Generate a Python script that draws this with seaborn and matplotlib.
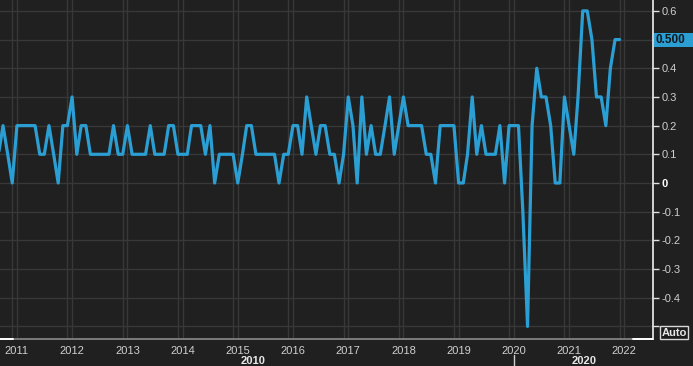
import numpy as np
import pandas as pd
import matplotlib
matplotlib.use("Agg")
import matplotlib.pyplot as plt
from matplotlib.lines import Line2D
import seaborn as sns

# ---------------- data (monthly, first of month) ----------------
first_month = "2010-09-01"
v2010 = [0.1, 0.2, 0.1, 0.0]  # Sep-Dec
v2011 = [0.2, 0.2, 0.2, 0.2, 0.2, 0.1, 0.1, 0.2, 0.1, 0.0, 0.2, 0.2]
v2012 = [0.3, 0.1, 0.2, 0.2, 0.1, 0.1, 0.1, 0.1, 0.1, 0.2, 0.1, 0.1]
v2013 = [0.2, 0.1, 0.1, 0.1, 0.1, 0.2, 0.1, 0.1, 0.1, 0.2, 0.2, 0.1]
v2014 = [0.1, 0.1, 0.2, 0.2, 0.2, 0.1, 0.2, 0.0, 0.1, 0.1, 0.1, 0.1]
v2015 = [0.0, 0.1, 0.2, 0.2, 0.1, 0.1, 0.1, 0.1, 0.1, 0.0, 0.1, 0.1]
v2016 = [0.2, 0.2, 0.1, 0.3, 0.2, 0.1, 0.2, 0.2, 0.1, 0.1, 0.0, 0.1]
v2017 = [0.3, 0.2, 0.0, 0.3, 0.1, 0.2, 0.1, 0.1, 0.2, 0.3, 0.1, 0.2]
v2018 = [0.3, 0.2, 0.2, 0.2, 0.2, 0.1, 0.1, 0.0, 0.2, 0.2, 0.2, 0.2]
v2019 = [0.0, 0.0, 0.1, 0.3, 0.1, 0.2, 0.1, 0.1, 0.1, 0.2, 0.0, 0.2]
v2020 = [0.2, 0.2, -0.1, -0.5, 0.2, 0.4, 0.3, 0.3, 0.2, 0.0, 0.0, 0.3]
v2021 = [0.2, 0.1, 0.3, 0.6, 0.6, 0.5, 0.3, 0.3, 0.2, 0.4, 0.5, 0.5]

year_ticks = list(range(2011, 2023))
y_ticks = [-0.5, -0.4, -0.3, -0.2, -0.1, 0.0, 0.1, 0.2, 0.3, 0.4, 0.5, 0.6]
y_labels = ["", "-0.4", "-0.3", "-0.2", "-0.1", "0", "0.1", "0.2", "0.3", "0.4", "", "0.6"]
last_label = "0.500"
decade_labels = ["2010", "2020"]

values = v2010 + v2011 + v2012 + v2013 + v2014 + v2015 + v2016 + v2017 + v2018 + v2019 + v2020 + v2021
dates = pd.date_range(first_month, periods=len(values), freq="MS")
df = pd.DataFrame({"date": dates, "value": values})

# ---------------- style ----------------
BG = "#202020"
GRID = "#383838"
LINE = "#2b9fd3"
TXT = "#cfcfcf"

sns.set_style("dark")
plt.rcParams["font.family"] = ["Liberation Sans", "DejaVu Sans"]
plt.rcParams["lines.solid_joinstyle"] = "round"
plt.rcParams["lines.solid_capstyle"] = "round"

W, H = 693, 366
fig = plt.figure(figsize=(W / 100, H / 100), dpi=100, facecolor=BG)
ax = fig.add_axes([0, 27 / H, 653 / W, 339 / H])
ax.set_facecolor(BG)

sns.lineplot(data=df, x="date", y="value", ax=ax, color=LINE, linewidth=2.3, zorder=5)
for ln in ax.get_lines():
    ln.set_solid_joinstyle("round")

ax.set_xlim(pd.Timestamp("2010-09-11"), pd.Timestamp("2022-07-10"))
ax.set_ylim(-0.544, 0.638)

# x axis
ax.set_xticks([pd.Timestamp(f"{y}-01-01") for y in year_ticks])
ax.set_xticklabels([str(y) for y in year_ticks])
ax.set_xticks([pd.Timestamp(f"{y - 1}-12-01") for y in year_ticks], minor=True)
ax.tick_params(axis="x", which="major", colors="#9a9a9a", labelcolor=TXT, labelsize=8,
               length=3, width=1, pad=2, direction="out")
ax.tick_params(axis="x", which="minor", length=0)

# y axis on the right
ax.yaxis.tick_right()
ax.set_yticks(y_ticks)
ax.set_yticklabels(y_labels)
ax.tick_params(axis="y", colors="#e0e0e0", labelcolor=TXT, labelsize=8,
               length=4, width=1, pad=2)
for lab in ax.get_yticklabels():
    if lab.get_text() == "0":
        lab.set_fontweight("bold")
        lab.set_color("#ffffff")

ax.grid(True, which="major", color=GRID, linewidth=1)
ax.grid(True, which="minor", axis="x", color=GRID, linewidth=1)

ax.set_xlabel("")
ax.set_ylabel("")

for s in ["top", "left"]:
    ax.spines[s].set_visible(False)
ax.spines["right"].set_color("#f0f0f0")
ax.spines["right"].set_linewidth(1.2)
ax.spines["bottom"].set_color("#8a8a8a")
ax.spines["bottom"].set_linewidth(1.2)

# last value label (box + text drawn above the axes)
box_y = ax.transData.transform((0, values[-1]))[1] / fig.bbox.height
fig.patches.append(plt.Rectangle((654 / W, box_y - 7 / H), 39 / W, 14 / H,
                                 transform=fig.transFigure, facecolor=LINE,
                                 edgecolor="none", zorder=3))
fig.text(655 / W, box_y, last_label, ha="left", va="center", fontsize=8.5,
         fontweight="bold", color="#101820", zorder=4)

# Auto box
fig.text(674 / W, (366 - 332.5) / H, "Auto", ha="center", va="center", fontsize=8,
         fontweight="bold", color="#e8e8e8", zorder=4,
         bbox=dict(boxstyle="square,pad=0.12", facecolor="#1c1c1c",
                   edgecolor="#d8d8d8", linewidth=1))

# decade row
fig.text(253 / W, (366 - 361) / H, decade_labels[0], ha="center", va="center",
         fontsize=8, fontweight="bold", color="#e8e8e8")
fig.text(584 / W, (366 - 361) / H, decade_labels[1], ha="center", va="center",
         fontsize=8, fontweight="bold", color="#e8e8e8")
fig.add_artist(Line2D([514 / W, 514 / W], [0, (366 - 355) / H],
                      transform=fig.transFigure, color="#cfcfcf", linewidth=1))

# scroll indicators on the bottom axis
fig.add_artist(Line2D([0, 13 / W], [27 / H, 27 / H], transform=fig.transFigure,
                      color="#ffffff", linewidth=1.4))
fig.add_artist(Line2D([633 / W, 653 / W], [27 / H, 27 / H], transform=fig.transFigure,
                      color="#ffffff", linewidth=1.4))

fig.savefig("out.png", dpi=100, facecolor=BG)
